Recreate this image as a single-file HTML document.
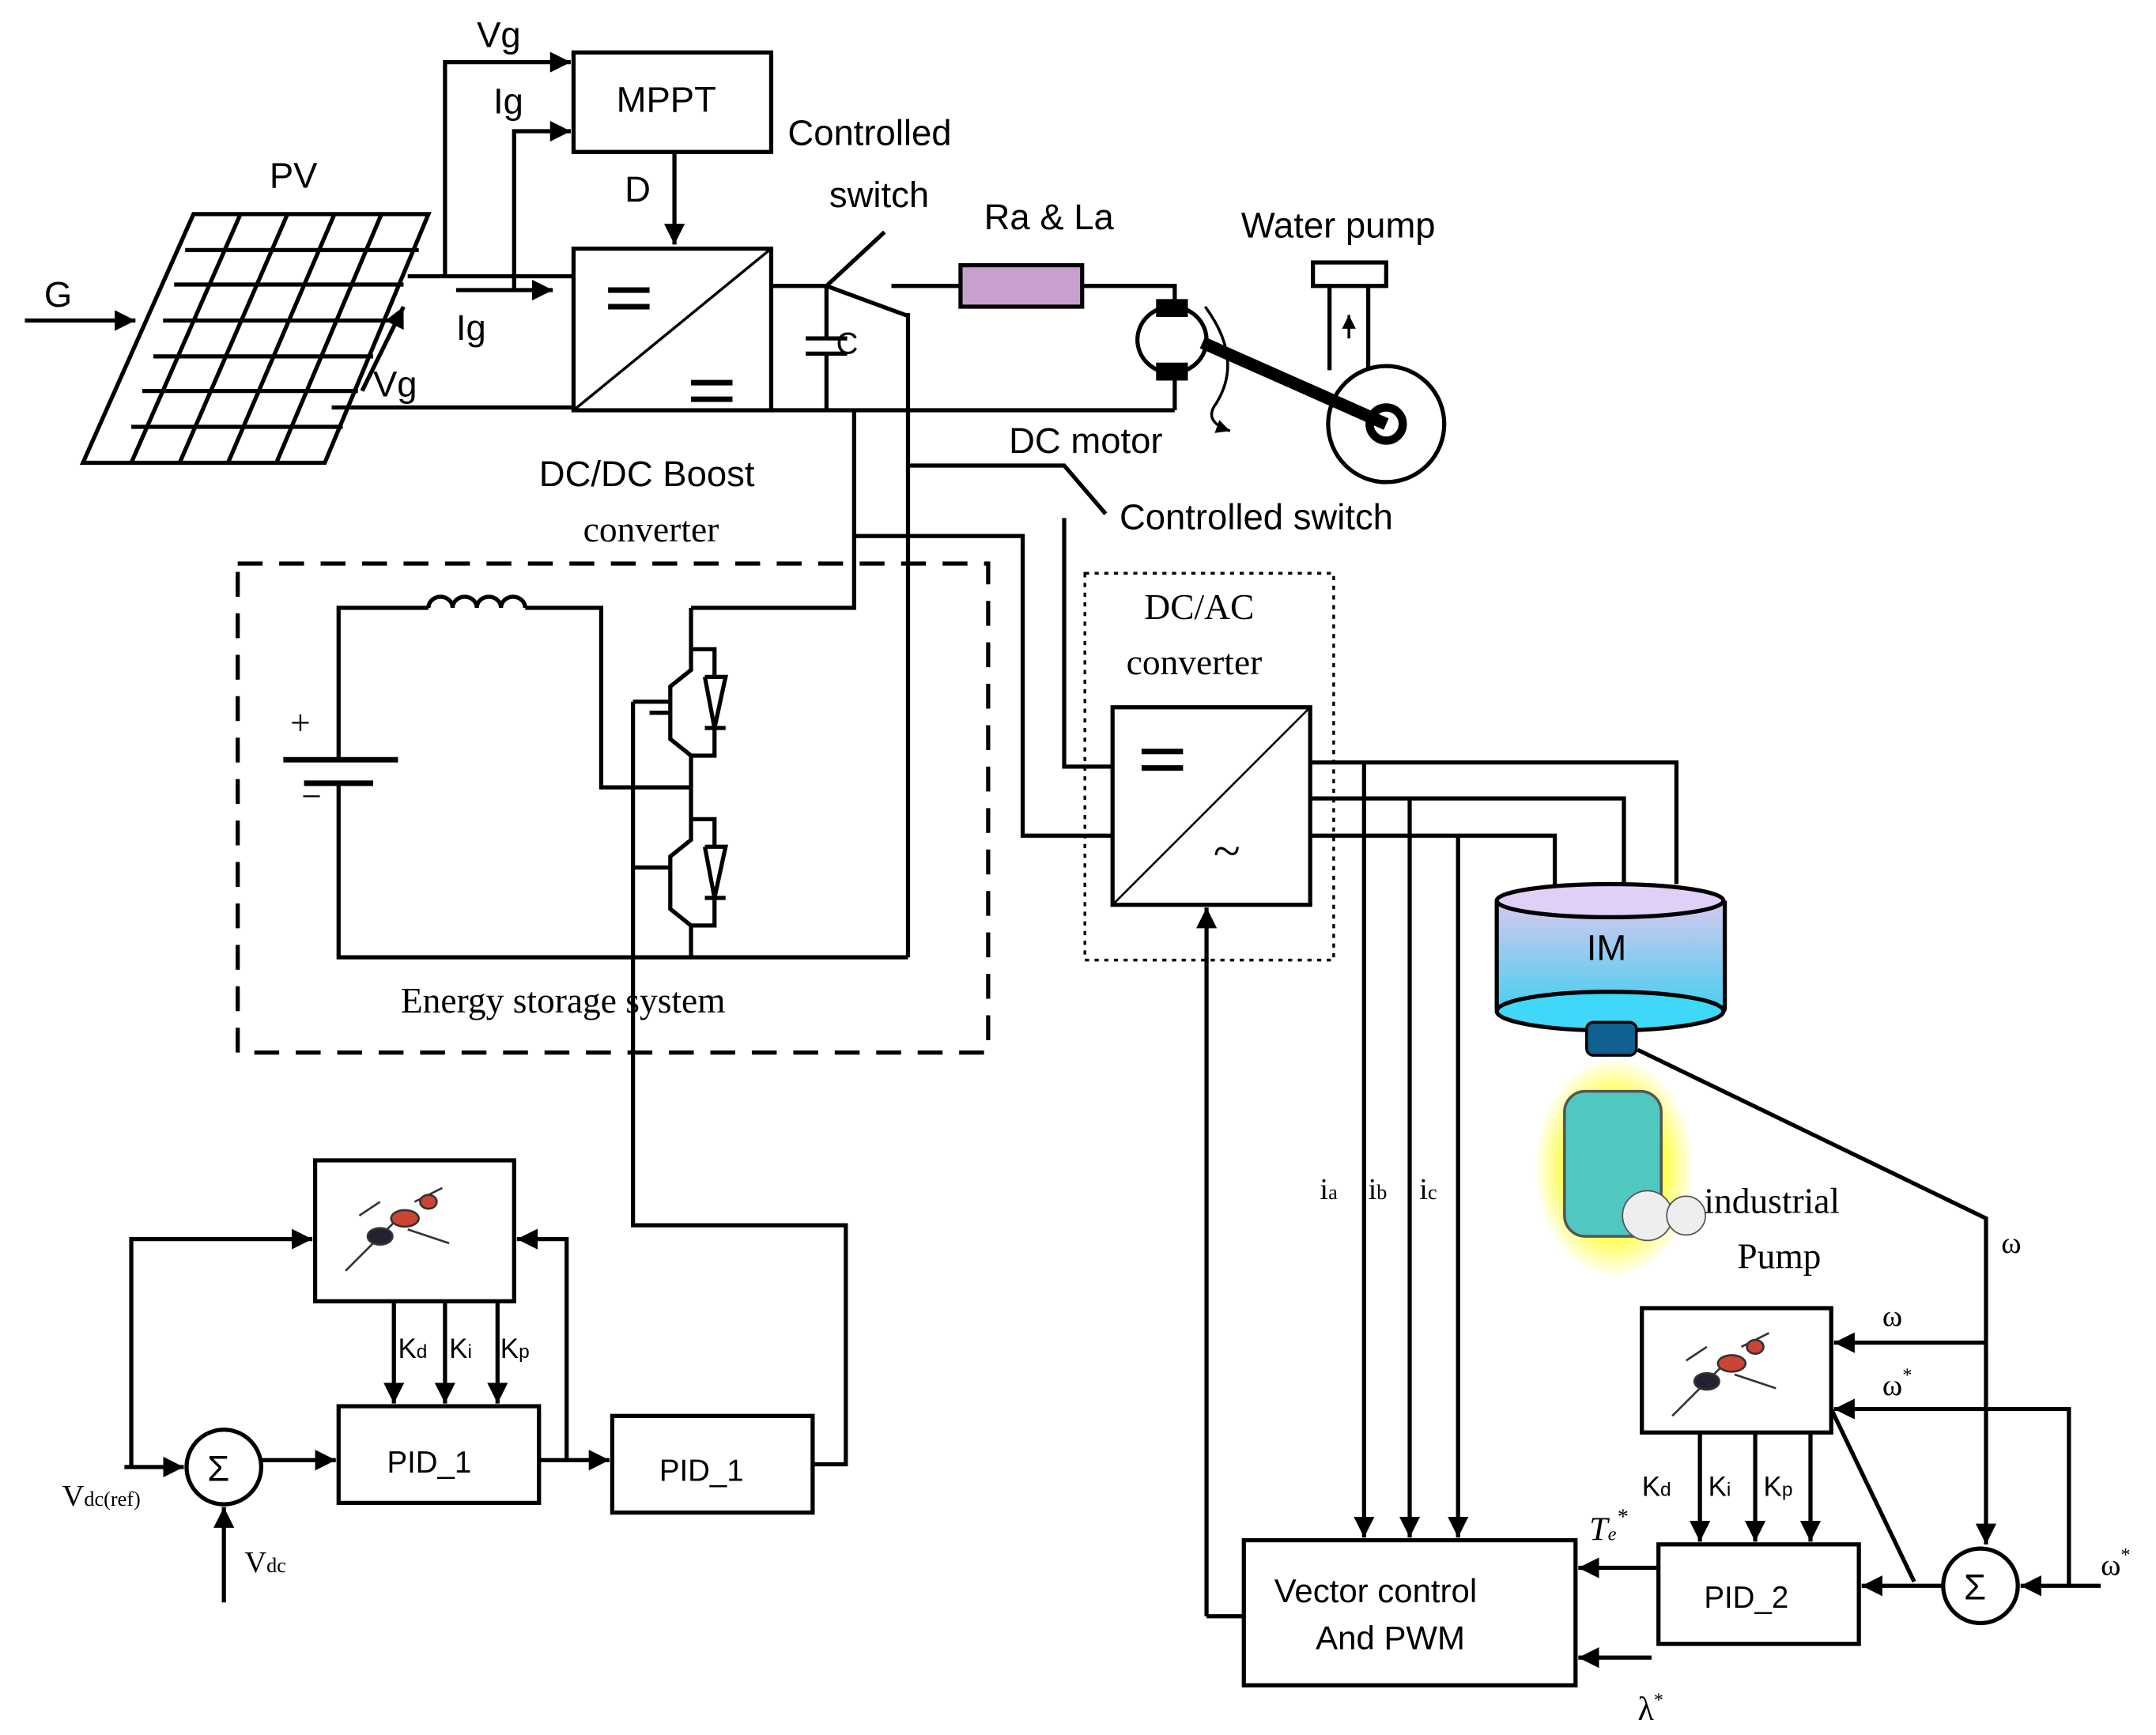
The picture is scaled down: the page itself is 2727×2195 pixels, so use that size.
<!DOCTYPE html>
<html><head><meta charset="utf-8"><style>
html,body{margin:0;padding:0;background:#fff}
svg{display:block}
text{font-family:"Liberation Sans",sans-serif;fill:#000}
.s{font-family:"Liberation Serif",serif}
</style></head><body>
<svg width="2727" height="2195" viewBox="0 0 1560 1256" preserveAspectRatio="none" xmlns="http://www.w3.org/2000/svg">
<defs>
<marker id="a" viewBox="0 0 10 10" refX="10" refY="5" markerWidth="5" markerHeight="5" orient="auto"><path d="M0,0L10,5L0,10z" fill="#000"/></marker>
<linearGradient id="im" x1="0" y1="0" x2="0" y2="1"><stop offset="0" stop-color="#d8c8f0"/><stop offset="1" stop-color="#30d0f0"/></linearGradient>
<radialGradient id="gl"><stop offset="0.6" stop-color="#ffff40"/><stop offset="1" stop-color="#ffff40" stop-opacity="0"/></radialGradient>
</defs>
<g stroke="#000" stroke-width="3" fill="none">
<path d="M140,155L310,155L235,335L60,335Z"/>
<path d="M174,155L95,335M208,155L130,335M242,155L165,335M276,155L200,335"/>
<path d="M134,181L303,181M126,206L292,206M118,232L281,232M111,258L270,258M103,283L259,283M95,309L248,309"/>
<path d="M18,232L98,232" marker-end="url(#a)"/>
<rect x="415" y="38" width="143" height="72"/>
<path d="M322,200L322,45L413,45" marker-end="url(#a)"/>
<path d="M372,210L372,95L413,95" marker-end="url(#a)"/>
<path d="M295,200L415,200"/>
<path d="M330,210L400,210" marker-end="url(#a)"/>
<path d="M240,295L415,295"/>
<path d="M262,283L292,222" marker-end="url(#a)"/>
<path d="M488,110L488,177" marker-end="url(#a)"/>
<rect x="415" y="180" width="143" height="117"/>
<path d="M415,297L558,180" stroke-width="2"/>
<path d="M440,210h30M440,222h30M500,277h30M500,289h30" stroke-width="4"/>
<path d="M558,207L598,207M558,297L850,297"/>
<path d="M598,207L598,245M598,256L598,297M583,245L613,245M583,256L613,256"/>
<path d="M598,207L640,168M598,207L655,228L657,228L657,693"/>
<path d="M645,207L695,207M783,207L850,207L850,222M850,270L850,297"/>
<rect x="695" y="192" width="88" height="30" fill="#c8a0d0"/>
<ellipse cx="848" cy="246" rx="25" ry="24" fill="#fff"/>
<rect x="838" y="218" width="20" height="10" fill="#000"/><rect x="838" y="264" width="20" height="10" fill="#000"/>
<path d="M870,248L1003,307" stroke-width="9"/>
<path d="M872,222Q900,260 880,292Q870,305 890,312" stroke-width="2" marker-end="url(#a)"/>
<rect x="950" y="190" width="53" height="17"/>
<path d="M962,207V268M990,207V268"/>
<path d="M976,245V228" marker-end="url(#a)" stroke-width="2"/>
<circle cx="1003" cy="307" r="42"/>
<circle cx="1003" cy="307" r="12" stroke-width="6"/>
<path d="M657,337L770,337L800,372M770,375L770,555L805,555"/>
<path d="M618,297L618,440L500,440M618,388L740,388L740,605L805,605"/>
<rect x="172" y="408" width="543" height="354" stroke-dasharray="18,12"/>
<path d="M245,550V440H310M380,440H435V570H500M245,567V693H657"/>
<path d="M310,440a8.75,8 0 0 1 17.5,0a8.75,8 0 0 1 17.5,0a8.75,8 0 0 1 17.5,0a8.75,8 0 0 1 17.5,0"/>
<path d="M205,550H288M220,567H270" stroke-width="4"/>
<path d="M500,440V470H517V490M500,470V485L485,497V535L500,547V570M500,547H517V527M510,490L525,490L517,527L510,490M510,527H525M470,516H485"/>
<path d="M500,570V593H517V613M500,593V608L485,620V658L500,670V693M500,670H517V650M510,613L525,613L517,650L510,613M510,650H525M458,628H485"/>
<path d="M458,508V887H612V1060H588M458,508H485"/>
<rect x="785" y="415" width="180" height="280" stroke-dasharray="3,4" stroke-width="2"/>
<rect x="805" y="512" width="143" height="143"/>
<path d="M805,655L948,512" stroke-width="1.5"/>
<path d="M826,544h30M826,556h30" stroke-width="4"/>
<path d="M948,552H1213V640M948,578H1175V640M948,605H1125V645"/>
<path d="M987,552V1113" marker-end="url(#a)"/>
<path d="M1020,578V1113" marker-end="url(#a)"/>
<path d="M1055,605V1113" marker-end="url(#a)"/>
<path d="M873,1170V657" marker-end="url(#a)"/>
<path d="M873,1170H900"/>
<path d="M1083,652V730A82,14 0 0 0 1248,730V652" fill="url(#im)"/>
<ellipse cx="1165" cy="652" rx="82" ry="12" fill="#e0d0f8"/>
<ellipse cx="1165" cy="732" rx="82" ry="14" fill="#40d8f8"/>
<rect x="1148" y="740" width="36" height="24" rx="5" fill="#106090" stroke-width="2"/>
<path d="M1185,760L1437,882V1118" marker-end="url(#a)"/>
<rect x="900" y="1115" width="240" height="105"/>
<rect x="1200" y="1118" width="145" height="72"/>
<circle cx="1433" cy="1148" r="27"/>
<rect x="1188" y="947" width="137" height="90"/>
<path d="M1230,1037V1116" marker-end="url(#a)"/>
<path d="M1270,1037V1116" marker-end="url(#a)"/>
<path d="M1310,1037V1116" marker-end="url(#a)"/>
<path d="M1437,972H1327" marker-end="url(#a)"/>
<path d="M1497,1148V1020H1327" marker-end="url(#a)"/>
<path d="M1520,1148H1462" marker-end="url(#a)"/>
<path d="M1385,1145L1325,1020"/>
<path d="M1405,1148H1347" marker-end="url(#a)"/>
<path d="M1200,1135H1142" marker-end="url(#a)"/>
<path d="M1195,1200H1142" marker-end="url(#a)"/>
<rect x="228" y="840" width="144" height="102"/>
<rect x="245" y="1018" width="145" height="70"/>
<rect x="443" y="1025" width="145" height="70"/>
<circle cx="162" cy="1062" r="27"/>
<path d="M285,942V1016" marker-end="url(#a)"/>
<path d="M322,942V1016" marker-end="url(#a)"/>
<path d="M360,942V1016" marker-end="url(#a)"/>
<path d="M90,1062H133" marker-end="url(#a)"/>
<path d="M95,1062V897H226" marker-end="url(#a)"/>
<path d="M162,1160V1091" marker-end="url(#a)"/>
<path d="M189,1057H243" marker-end="url(#a)"/>
<path d="M390,1057H441" marker-end="url(#a)"/>
<path d="M410,1057V897H374" marker-end="url(#a)"/>
</g>
<ellipse cx="1168" cy="845" rx="58" ry="80" fill="url(#gl)"/>
<rect x="1132" y="790" width="70" height="105" rx="15" fill="#50c8c0" stroke="#555" stroke-width="2"/>
<circle cx="1192" cy="880" r="18" fill="#eee" stroke="#555"/>
<circle cx="1220" cy="880" r="14" fill="#eee" stroke="#555"/>
<g stroke="#333" stroke-width="1.5" fill="none">
<path d="M250,920L290,880M260,880L275,870M300,870L320,860M295,890L325,900"/>
<ellipse cx="275" cy="895" rx="9" ry="6" fill="#223"/><ellipse cx="293" cy="882" rx="10" ry="6" fill="#c43"/><ellipse cx="310" cy="870" rx="6" ry="5" fill="#c43"/>
<path d="M1210,1025L1250,985M1220,985L1235,975M1260,975L1280,965M1255,995L1285,1005"/>
<ellipse cx="1235" cy="1000" rx="9" ry="6" fill="#223"/><ellipse cx="1253" cy="987" rx="10" ry="6" fill="#c43"/><ellipse cx="1270" cy="975" rx="6" ry="5" fill="#c43"/>
</g>
<g font-size="26">
<text x="195" y="136">PV</text>
<text x="32" y="222">G</text>
<text x="345" y="34">Vg</text>
<text x="357" y="82">Ig</text>
<text x="330" y="246">Ig</text>
<text x="270" y="287">Vg</text>
<text x="446" y="81">MPPT</text>
<text x="452" y="146">D</text>
<text x="570" y="105">Controlled</text>
<text x="600" y="150">switch</text>
<text x="712" y="166">Ra &amp; La</text>
<text x="898" y="172">Water pump</text>
<text x="730" y="328">DC motor</text>
<text x="810" y="383">Controlled switch</text>
<text x="605" y="256" font-size="22">C</text>
<text x="390" y="352">DC/DC  Boost</text>
<text x="1148" y="695">IM</text>
<text x="280" y="1066" font-size="22">PID_1</text>
<text x="477" y="1072" font-size="22">PID_1</text>
<text x="1233" y="1164" font-size="22">PID_2</text>
<text x="922" y="1160" font-size="24">Vector control</text>
<text x="952" y="1194" font-size="24">And PWM</text>
<text x="288" y="983" font-size="20">K<tspan font-size="14">d</tspan></text>
<text x="325" y="983" font-size="20">K<tspan font-size="14">i</tspan></text>
<text x="362" y="983" font-size="20">K<tspan font-size="14">p</tspan></text>
<text x="1188" y="1083" font-size="20">K<tspan font-size="14">d</tspan></text>
<text x="1236" y="1083" font-size="20">K<tspan font-size="14">i</tspan></text>
<text x="1276" y="1083" font-size="20">K<tspan font-size="14">p</tspan></text>
<text x="150" y="1072" font-size="26">Σ</text>
<text x="1421" y="1158" font-size="26">Σ</text>
</g>
<g font-size="26" class="s">
<text class="s" x="422" y="392">converter</text>
<text class="s" x="828" y="448">DC/AC</text>
<text class="s" x="815" y="488">converter</text>
<text class="s" x="878" y="628" font-size="36">~</text>
<text class="s" x="290" y="733">Energy storage system</text>
<text class="s" x="210" y="532">+</text>
<text class="s" x="218" y="585">−</text>
<text class="s" x="1233" y="878">industrial</text>
<text class="s" x="1257" y="918">Pump</text>
<text class="s" x="1448" y="907" font-size="22">ω</text>
<text class="s" x="1362" y="960" font-size="22">ω</text>
<text class="s" x="1362" y="1010" font-size="22">ω<tspan dy="-10" font-size="14">*</tspan></text>
<text class="s" x="1520" y="1140" font-size="22">ω<tspan dy="-10" font-size="14">*</tspan></text>
<text class="s" x="1150" y="1115" font-size="24" font-style="italic">T<tspan font-size="14">e</tspan><tspan dy="-12" font-size="16">*</tspan></text>
<text class="s" x="1185" y="1245" font-size="24">λ<tspan dy="-10" font-size="14">*</tspan></text>
<text class="s" x="955" y="868" font-size="22">i<tspan font-size="15">a</tspan></text>
<text class="s" x="990" y="868" font-size="22">i<tspan font-size="15">b</tspan></text>
<text class="s" x="1027" y="868" font-size="22">i<tspan font-size="15">c</tspan></text>
<text class="s" x="45" y="1090" font-size="22">V<tspan font-size="15">dc(ref)</tspan></text>
<text class="s" x="177" y="1138" font-size="22">V<tspan font-size="15">dc</tspan></text>
</g>
</svg>
</body></html>
